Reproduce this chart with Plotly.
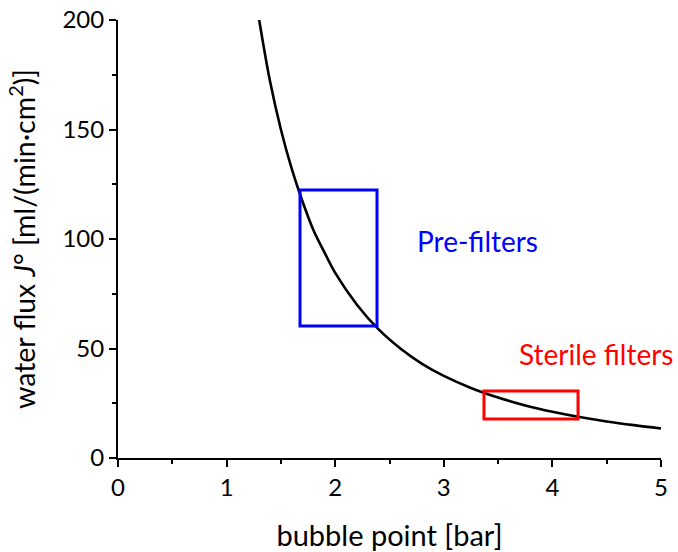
import plotly.graph_objects as go

# Curve
bubble_point = [1.3, 1.4, 1.5, 1.6, 1.7, 1.8, 1.9, 2.0, 2.2, 2.4, 2.6, 2.8, 3.0,
                3.25, 3.5, 3.75, 4.0, 4.25, 4.5, 4.75, 5.0]
water_flux = [200, 172, 150, 132, 117, 104, 94, 84.5, 70, 58.7, 50, 43, 37.5,
              32, 27.6, 24, 21.1, 18.7, 16.7, 15, 13.5]

# Regions
prefilter_bp = [1.676, 2.385]
prefilter_flux = [60.3, 122.4]
sterile_bp = [3.37, 4.236]
sterile_flux = [17.8, 30.6]

x_ticks = [0, 1, 2, 3, 4, 5]
y_ticks = [0, 50, 100, 150, 200]

FONT = "Lato, Carlito, Calibri, sans-serif"

fig = go.Figure()
fig.add_trace(go.Scatter(x=bubble_point, y=water_flux, mode="lines",
                         line=dict(color="black", width=2.6, shape="spline"),
                         showlegend=False, hoverinfo="skip"))

fig.add_shape(type="rect", xref="x", yref="y",
              x0=prefilter_bp[0], x1=prefilter_bp[1],
              y0=prefilter_flux[0], y1=prefilter_flux[1],
              line=dict(color="#0000FF", width=3))
fig.add_shape(type="rect", xref="x", yref="y",
              x0=sterile_bp[0], x1=sterile_bp[1],
              y0=sterile_flux[0], y1=sterile_flux[1],
              line=dict(color="#FF0000", width=3))

fig.add_annotation(x=3.31, y=99, text="Pre-filters", showarrow=False,
                   font=dict(family=FONT, size=28, color="#0000FF"))
fig.add_annotation(x=4.4, y=47.5, text="Sterile filters", showarrow=False,
                   font=dict(family=FONT, size=28, color="#FF0000"))

axis_common = dict(showgrid=False, zeroline=False, showline=True,
                   linecolor="black", linewidth=2, ticks="outside",
                   ticklen=7, tickwidth=2, tickcolor="black", automargin=False,
                   tickfont=dict(family=FONT, size=24, color="black"))

fig.update_xaxes(range=[0, 5], tickvals=x_ticks,
                 minor=dict(dtick=0.5, ticks="outside", ticklen=4, tickwidth=1.5, tickcolor="black"),
                 title=dict(text="bubble point [bar]", font=dict(family=FONT, size=29, color="black"), standoff=30),
                 **axis_common)
fig.update_yaxes(range=[0, 200], tickvals=y_ticks,
                 minor=dict(dtick=25, ticks="outside", ticklen=4, tickwidth=1.5, tickcolor="black"),
                 title=dict(text="water flux <i>J</i>° [ml/(min·cm<sup>2</sup>)]",
                            font=dict(family=FONT, size=28.5, color="black"), standoff=18),
                 **axis_common)

fig.update_layout(width=678, height=552, plot_bgcolor="white", paper_bgcolor="white",
                  margin=dict(l=118, r=17, t=20, b=94), showlegend=False)

fig.write_html("out.html")
